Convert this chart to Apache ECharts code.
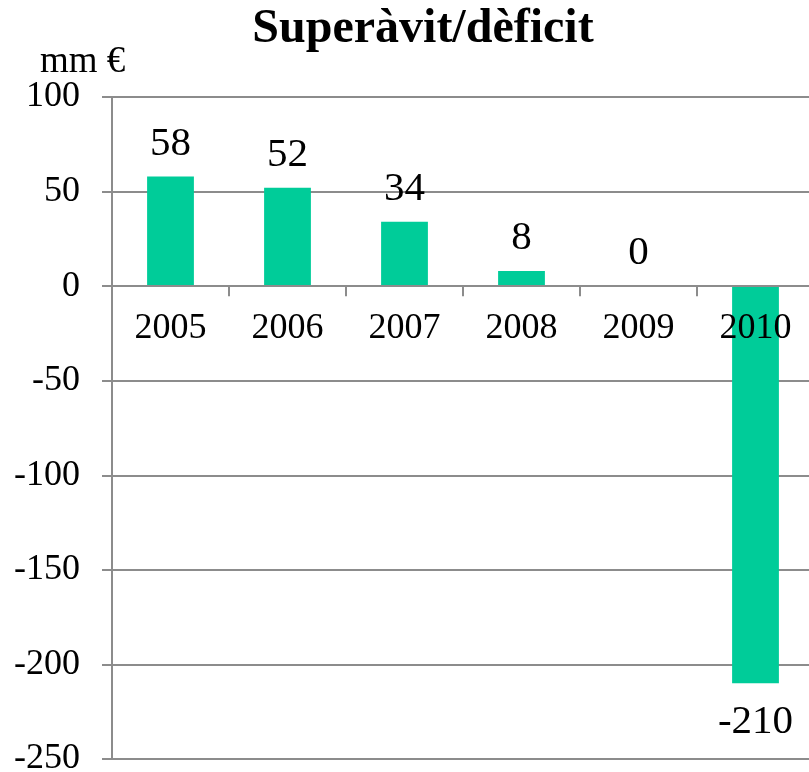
<!DOCTYPE html>
<html><head><meta charset="utf-8">
<script src="https://cdn.jsdelivr.net/npm/echarts@6/dist/echarts.min.js"></script>
<style>html,body{margin:0;padding:0;background:#fff}#c{width:809px;height:772px}</style>
</head><body><div id="c"></div>
<script>
const categories = ['2005','2006','2007','2008','2009','2010'];
const values = [58, 52, 34, 8, 0, -210];
const yTicks = { min: -250, max: 100, interval: 50 };
const titleText = 'Superàvit/dèficit';
const unitText = 'mm €';

const FONT = '"Liberation Serif","Times New Roman",serif';
const GRID = { left: 112, right: -5, top: 97, bottom: 13 };
const plotH = 772 - GRID.top - GRID.bottom;
// shift category axis from bottom of grid up to the value 0
const zeroOffset = -plotH * (0 - yTicks.min) / (yTicks.max - yTicks.min);

const chart = echarts.init(document.getElementById('c'), null, {renderer:'canvas'});
chart.setOption({
  animation: false,
  backgroundColor: '#ffffff',
  title: [
    { text: titleText, left: 418, textAlign: 'center', top: 1,
      textStyle: { fontFamily: FONT, fontWeight: 'bold', fontSize: 48, color: '#000' } },
    { text: unitText, left: 35, top: 39,
      textStyle: { fontFamily: FONT, fontWeight: 'normal', fontSize: 37, color: '#000' } }
  ],
  grid: Object.assign({ containLabel: false, outerBoundsMode: 'none' }, GRID),
  xAxis: {
    type: 'category', data: categories,
    offset: zeroOffset,
    z: 5,
    axisLine: { onZero: false, lineStyle: { color: '#8c8c8c', width: 2 } },
    axisTick: { show: true, length: 10, lineStyle: { color: '#8c8c8c', width: 2 } },
    axisLabel: { margin: 24, fontFamily: FONT, fontSize: 36, color: '#000' },
    splitLine: { show: false }
  },
  yAxis: {
    type: 'value', min: yTicks.min, max: yTicks.max, interval: yTicks.interval,
    axisLine: { show: true, lineStyle: { color: '#8c8c8c', width: 2 } },
    axisTick: { show: true, length: 10, lineStyle: { color: '#8c8c8c', width: 2 } },
    axisLabel: { margin: 32, fontFamily: FONT, fontSize: 36, color: '#000' },
    splitLine: { show: true, lineStyle: { color: '#8c8c8c', width: 2 } }
  },
  series: [{
    type: 'bar',
    barWidth: '40%',
    itemStyle: { color: '#00cc99' },
    data: values.map(v => ({
      value: v,
      label: v < 0 ? { position: 'bottom', distance: 18 } : { position: 'top' }
    })),
    label: {
      show: true, distance: 12,
      fontFamily: FONT, fontSize: 41, color: '#000'
    }
  }]
});
</script></body></html>
